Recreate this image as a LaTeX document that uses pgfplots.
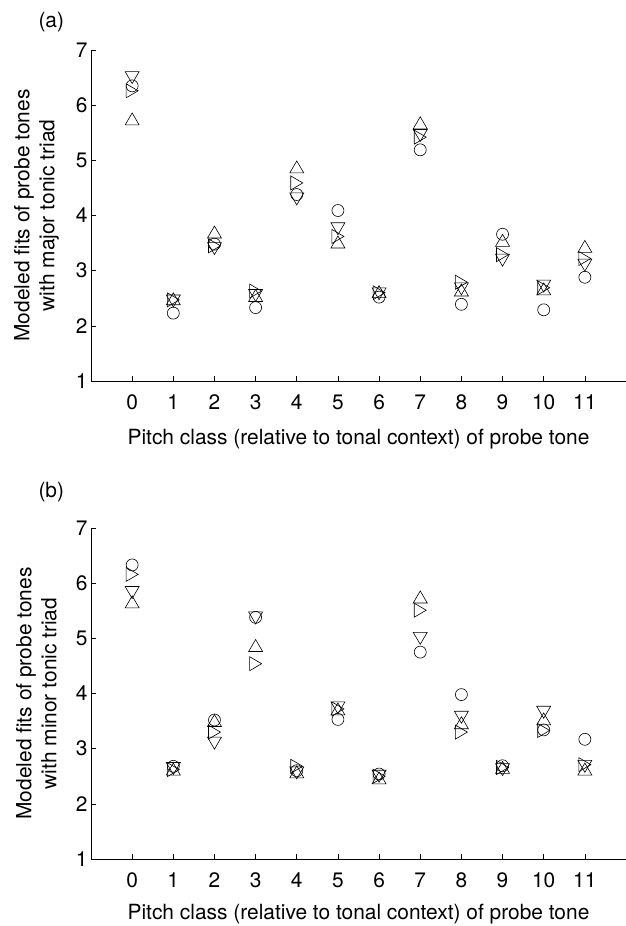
\documentclass[border=0pt]{standalone}
\usepackage{pgfplots}
\usepackage{pgfplotstable}
\pgfplotsset{compat=1.18}
\usepackage{fontspec}
\setmainfont{TeX Gyre Heros}

% open triangle marks, centred on their bounding box
\pgfdeclareplotmark{tup}{%
  \pgfpathmoveto{\pgfpoint{0bp}{6bp}}%
  \pgfpathlineto{\pgfpoint{-7bp}{-6bp}}%
  \pgfpathlineto{\pgfpoint{7bp}{-6bp}}%
  \pgfpathclose\pgfusepathqstroke}
\pgfdeclareplotmark{tdown}{%
  \pgfpathmoveto{\pgfpoint{0bp}{-6bp}}%
  \pgfpathlineto{\pgfpoint{-7bp}{6bp}}%
  \pgfpathlineto{\pgfpoint{7bp}{6bp}}%
  \pgfpathclose\pgfusepathqstroke}
\pgfdeclareplotmark{tright}{%
  \pgfpathmoveto{\pgfpoint{6bp}{0bp}}%
  \pgfpathlineto{\pgfpoint{-6bp}{7bp}}%
  \pgfpathlineto{\pgfpoint{-6bp}{-7bp}}%
  \pgfpathclose\pgfusepathqstroke}

% probe-tone ratings (circles) and three model fits
\pgfplotstableread{
x  probe up   down right
0  6.35  5.75 6.50 6.26
1  2.23  2.49 2.45 2.47
2  3.48  3.70 3.40 3.45
3  2.33  2.55 2.55 2.63
4  4.38  4.88 4.30 4.59
5  4.09  3.52 3.76 3.62
6  2.52  2.62 2.58 2.60
7  5.19  5.68 5.45 5.42
8  2.39  2.65 2.67 2.79
9  3.66  3.55 3.19 3.29
10 2.29  2.67 2.72 2.69
11 2.88  3.44 3.10 3.22
}\majortab

\pgfplotstableread{
x  probe up   down right
0  6.33  5.66 5.83 6.16
1  2.68  2.63 2.64 2.62
2  3.52  3.51 3.10 3.30
3  5.38  4.87 5.37 4.54
4  2.60  2.58 2.56 2.68
5  3.53  3.72 3.74 3.72
6  2.54  2.47 2.50 2.50
7  4.75  5.75 5.00 5.51
8  3.98  3.47 3.57 3.30
9  2.69  2.66 2.62 2.66
10 3.34  3.54 3.66 3.33
11 3.17  2.63 2.68 2.71
}\minortab

\pgfplotsset{
  probe/.style={
    scale only axis, width=535bp, height=331bp,
    xmin=-1, xmax=12, ymin=1, ymax=7,
    axis x line*=bottom, axis y line*=left,
    xtick={0,...,11}, ytick={1,...,7},
    tick align=inside, major tick length=5bp,
    tick style={black, line width=0.6bp},
    axis line style={black, line width=0.8bp},
    /pgf/number format/assume math mode=true,
    ticklabel style={font=\fontsize{21}{25}\selectfont},
    xticklabel style={yshift=-10bp},
    label style={font=\fontsize{21}{25}\selectfont},
    xlabel={Pitch class (relative to tonal context) of probe tone},
    xlabel style={at={(axis description cs:0.5,0)}, anchor=center,
      inner sep=0pt, yshift=-58bp},
    ylabel style={at={(axis description cs:-0.102,0.5)}, anchor=center, align=center},
    clip=false,
  },
  pts/.style={only marks, black, line width=0.6bp, mark options={solid, fill=none}},
}

\begin{document}
\begin{tikzpicture}[x=1bp, y=1bp]
\path[use as bounding box] (0,0) rectangle (626,926);

\begin{axis}[probe, at={(91bp,545bp)}, anchor=south west,
  ylabel={Modeled fits of probe tones\\with major tonic triad}]
  \addplot[pts, mark=o, mark size=6bp] table[x=x, y=probe] {\majortab};
  \addplot[pts, mark=tup] table[x=x, y=up] {\majortab};
  \addplot[pts, mark=tdown] table[x=x, y=down] {\majortab};
  \addplot[pts, mark=tright] table[x=x, y=right] {\majortab};
\end{axis}

\begin{axis}[probe, at={(91bp,67bp)}, anchor=south west,
  xlabel style={yshift=3bp},
  ylabel={Modeled fits of probe tones\\with minor tonic triad}]
  \addplot[pts, mark=o, mark size=6bp] table[x=x, y=probe] {\minortab};
  \addplot[pts, mark=tup] table[x=x, y=up] {\minortab};
  \addplot[pts, mark=tdown] table[x=x, y=down] {\minortab};
  \addplot[pts, mark=tright] table[x=x, y=right] {\minortab};
\end{axis}

\node[anchor=west, font=\fontsize{21}{25}\selectfont] at (35,904) {(a)};
\node[anchor=west, font=\fontsize{21}{25}\selectfont] at (35,434) {(b)};
\end{tikzpicture}
\end{document}
